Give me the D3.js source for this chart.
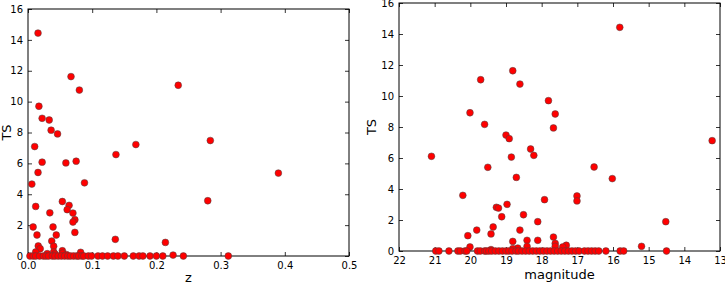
<!DOCTYPE html>
<html>
<head>
<meta charset="utf-8">
<script src="https://cdn.jsdelivr.net/npm/d3@7"></script>
<style>
body { margin: 0; background: #fff; }
svg text { font-family: "DejaVu Sans", sans-serif; }
</style>
</head>
<body>
<div id="chart"></div>
<script>
// left panel: redshift vs TS
var zVals = [0.0156, 0.067, 0.080, 0.234, 0.017, 0.022, 0.033, 0.036, 0.046, 0.0104, 0.168, 0.284, 0.137,
  0.022, 0.059, 0.075, 0.0156, 0.006, 0.088, 0.390, 0.0535, 0.064, 0.012, 0.061, 0.034, 0.070, 0.280,
  0.073, 0.070, 0.008, 0.039, 0.073, 0.014, 0.044, 0.037, 0.136, 0.016, 0.040, 0.019, 0.214, 0.012,
  0.0535, 0.040, 0.054, 0.082, 0.030, 0.042, 0.060, 0.226,
  0.003, 0.008, 0.012, 0.018, 0.024, 0.028, 0.032, 0.038, 0.042, 0.047, 0.052, 0.057, 0.062, 0.066,
  0.071, 0.076, 0.079, 0.084, 0.087, 0.094, 0.099, 0.109, 0.116, 0.124, 0.133, 0.140, 0.150, 0.164,
  0.173, 0.179, 0.190, 0.200, 0.210, 0.242, 0.312];
var zTS = [14.44, 11.62, 10.75, 11.06, 9.70, 8.92, 8.81, 8.15, 7.91, 7.09, 7.22, 7.48, 6.57,
  6.08, 6.03, 6.14, 5.41, 4.66, 4.74, 5.37, 3.53, 3.28, 3.21, 3.00, 2.80, 2.78, 3.58,
  2.35, 2.20, 1.88, 1.88, 1.53, 1.36, 1.36, 0.97, 1.08, 0.65, 0.63, 0.47, 0.88, 0.26,
  0.34, 0.26, 0.19, 0.24, 0.15, 0.13, 0.09, 0.06,
  0, 0, 0, 0, 0, 0, 0, 0, 0, 0, 0, 0, 0, 0,
  0, 0, 0, 0, 0, 0, 0, 0, 0, 0, 0, 0, 0, 0,
  0, 0, 0, 0, 0, 0, 0];

// right panel: magnitude vs TS
var magVals = [15.81, 18.81, 19.71, 18.61, 17.81, 17.62, 20.01, 19.60, 17.67, 19.00, 18.91, 13.22, 18.31,
  18.22, 21.09, 18.85, 19.51, 16.53, 18.71, 16.02, 20.21, 17.01, 17.01, 17.92, 18.97, 19.27, 19.21,
  18.51, 19.12, 18.11, 14.52, 19.82, 19.36, 18.61, 19.42, 20.07, 18.81, 18.41, 18.11, 17.67, 17.62,
  17.62, 17.31, 17.41, 15.20, 20.01, 18.41, 18.67, 18.81, 19.42,
  20.97, 20.88, 20.60, 20.35, 20.28, 20.15, 20.10, 19.80, 19.72, 19.60, 19.55, 19.48, 19.40, 19.30,
  19.20, 19.10, 19.00, 18.92, 18.83, 18.72, 18.65, 18.55, 18.45, 18.35, 18.25, 18.15, 18.05, 17.95,
  17.85, 17.75, 17.65, 17.55, 17.45, 17.35, 17.25, 17.15, 17.05, 16.95, 16.80, 16.70, 16.60, 16.50,
  16.40, 16.20, 15.80, 15.70, 14.50];
var magTS = [14.43, 11.63, 11.05, 10.77, 9.70, 8.84, 8.92, 8.17, 7.94, 7.48, 7.25, 7.12, 6.58,
  6.17, 6.11, 6.06, 5.40, 5.42, 4.75, 4.67, 3.59, 3.55, 3.23, 3.31, 3.01, 2.82, 2.77,
  2.34, 2.21, 1.89, 1.89, 1.35, 1.55, 1.35, 1.10, 0.99, 0.62, 0.69, 0.69, 0.90, 0.49,
  0.30, 0.37, 0.26, 0.30, 0.26, 0.30, 0.19, 0.15, 0.09,
  0, 0, 0, 0, 0, 0, 0, 0, 0, 0, 0, 0, 0, 0,
  0, 0, 0, 0, 0, 0, 0, 0, 0, 0, 0, 0, 0, 0,
  0, 0, 0, 0, 0, 0, 0, 0, 0, 0, 0, 0, 0, 0,
  0, 0, 0, 0, 0];

var tsTicks = [0, 2, 4, 6, 8, 10, 12, 14, 16];
var zTicks = [0, 0.1, 0.2, 0.3, 0.4, 0.5];
var magTicks = [22, 21, 20, 19, 18, 17, 16, 15, 14, 13];

var svg = d3.select("#chart").append("svg").attr("width", 725).attr("height", 283);

function panel(opts) {
  var g = svg.append("g");
  var x = d3.scaleLinear().domain(opts.xDomain).range([opts.left, opts.right]);
  var y = d3.scaleLinear().domain([0, 16]).range([opts.bottom, opts.top]);

  var axB = g.append("g").attr("transform", "translate(0," + opts.bottom + ")")
    .call(d3.axisBottom(x).tickValues(opts.xTicks).tickFormat(opts.xFormat).tickSizeInner(-4).tickSizeOuter(0).tickPadding(6));
  var axT = g.append("g").attr("transform", "translate(0," + opts.top + ")")
    .call(d3.axisTop(x).tickValues(opts.xTicks).tickFormat("").tickSizeInner(-4).tickSizeOuter(0));
  var axL = g.append("g").attr("transform", "translate(" + opts.left + ",0)")
    .call(d3.axisLeft(y).tickValues(tsTicks).tickSizeInner(-4).tickSizeOuter(0).tickPadding(5));
  var axR = g.append("g").attr("transform", "translate(" + opts.right + ",0)")
    .call(d3.axisRight(y).tickValues(tsTicks).tickFormat("").tickSizeInner(-4).tickSizeOuter(0));
  [axB, axT, axL, axR].forEach(function(a) {
    a.select(".domain").remove();
    a.selectAll("line").attr("stroke", "#000").attr("stroke-width", 0.8);
    a.selectAll("text").attr("font-size", 10).attr("fill", "#000").style("font-family", "DejaVu Sans");
  });

  g.append("rect")
    .attr("x", opts.left).attr("y", opts.top)
    .attr("width", opts.right - opts.left).attr("height", opts.bottom - opts.top)
    .attr("fill", "none").attr("stroke", "#000").attr("stroke-width", 1);

  var pts = opts.xs.map(function(v, i) { return {x: v, y: opts.ys[i]}; });
  g.selectAll("circle.pt").data(pts).enter().append("circle")
    .attr("class", "pt")
    .attr("cx", function(d) { return x(d.x); })
    .attr("cy", function(d) { return y(d.y); })
    .attr("r", 3.4)
    .attr("fill", "#ff0000")
    .attr("stroke", "#444")
    .attr("stroke-width", 0.5);

  g.append("text")
    .attr("x", (opts.left + opts.right) / 2).attr("y", opts.xLabelY)
    .attr("text-anchor", "middle").attr("font-size", 13)
    .text(opts.xLabel);
  g.append("text")
    .attr("transform", "translate(" + opts.yLabelX + "," + ((opts.top + opts.bottom) / 2) + ") rotate(-90)")
    .attr("text-anchor", "middle").attr("font-size", 13)
    .text("TS");
}

panel({
  xs: zVals, ys: zTS, xDomain: [0, 0.5], xTicks: zTicks, xFormat: d3.format(".1f"),
  left: 28, right: 349, top: 9, bottom: 256, xLabel: "z", xLabelY: 282, yLabelX: 11
});
panel({
  xs: magVals, ys: magTS, xDomain: [22, 13], xTicks: magTicks, xFormat: d3.format("d"),
  left: 399, right: 720, top: 3, bottom: 251, xLabel: "magnitude", xLabelY: 279, yLabelX: 376
});
</script>
</body>
</html>
